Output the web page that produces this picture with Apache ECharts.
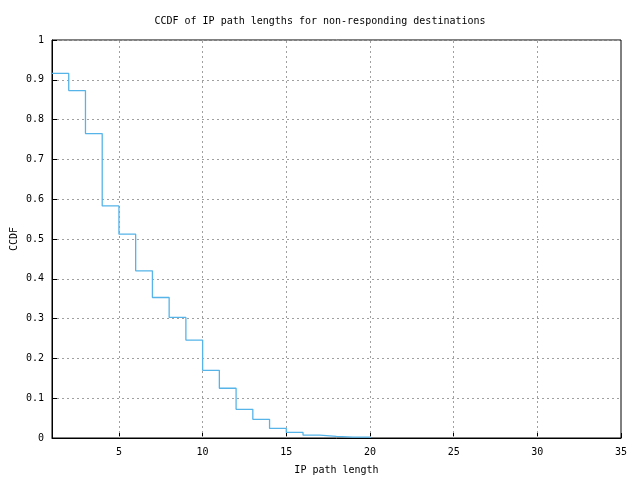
<!DOCTYPE html>
<html>
<head>
<meta charset="utf-8">
<script src="https://cdn.jsdelivr.net/npm/echarts@6/dist/echarts.min.js"></script>
<style>html,body{margin:0;padding:0;background:#fff;}#c{width:640px;height:480px;}</style>
</head>
<body>
<div id="c"></div>
<script>
var pathLength = [1,2,3,4,5,6,7,8,9,10,11,12,13,14,15,16,17,18,19,20];
var ccdf = [0.916,0.873,0.765,0.583,0.512,0.420,0.353,0.303,0.246,0.170,0.125,0.072,0.047,0.024,0.014,0.007,0.004,0.002,0.002,0];
var xTicks = [5,10,15,20,25,30,35];
var xGrid = [5,10,15,20,25,30];

var font = 'DejaVu Sans Mono';
var chart = echarts.init(document.getElementById('c'));
chart.setOption({
  animation: false,
  backgroundColor: '#fff',
  title: {
    text: 'CCDF of IP path lengths for non-responding destinations',
    left: 'center', top: 11,
    textStyle: {fontFamily: font, fontSize: 10, fontWeight: 'normal', color: '#000'}
  },
  grid: {left: 52, right: 19, top: 40, bottom: 42, show: true, borderColor: '#000', borderWidth: 1,
    backgroundColor: 'transparent', containLabel: false, outerBoundsMode: 'none'},
  xAxis: {
    type: 'value', min: 1, max: 35,
    name: 'IP path length', nameLocation: 'middle', nameGap: 27, nameMoveOverlap: false,
    nameTextStyle: {fontFamily: font, fontSize: 10, color: '#000'},
    axisLine: {show: true, lineStyle: {color: '#000'}},
    axisTick: {show: true, inside: true, length: 5, customValues: xTicks, lineStyle: {color: '#000'}},
    axisLabel: {customValues: xTicks, fontFamily: font, fontSize: 10, color: '#000', margin: 9},
    splitLine: {show: false}
  },
  yAxis: {
    type: 'value', min: 0, max: 1, interval: 0.1,
    name: 'CCDF', nameLocation: 'middle', nameGap: 33, nameRotate: 90, nameMoveOverlap: false,
    nameTextStyle: {fontFamily: font, fontSize: 10, color: '#000'},
    axisLine: {show: true, lineStyle: {color: '#000'}},
    axisTick: {show: true, inside: true, length: 5, lineStyle: {color: '#000'}},
    axisLabel: {fontFamily: font, fontSize: 10, color: '#000', margin: 8,
      formatter: function(v){ return String(Math.round(v*10)/10); }},
    splitLine: {show: true, lineStyle: {color: '#a0a0a0', type: [2,3], width: 1}}
  },
  series: [{
    type: 'line', data: [], symbol: 'none', z: 1,
    markLine: {
      silent: true, symbol: 'none', label: {show: false},
      lineStyle: {color: '#a0a0a0', type: [2,3], width: 1},
      data: xGrid.map(function(v){ return {xAxis: v}; })
    }
  }, {
    type: 'line', step: 'end', showSymbol: false, symbol: 'none',
    data: pathLength.map(function(x, i){ return [x, ccdf[i]]; }),
    lineStyle: {color: '#56b4e9', width: 1.3},
    z: 5
  }]
});
</script>
</body>
</html>
